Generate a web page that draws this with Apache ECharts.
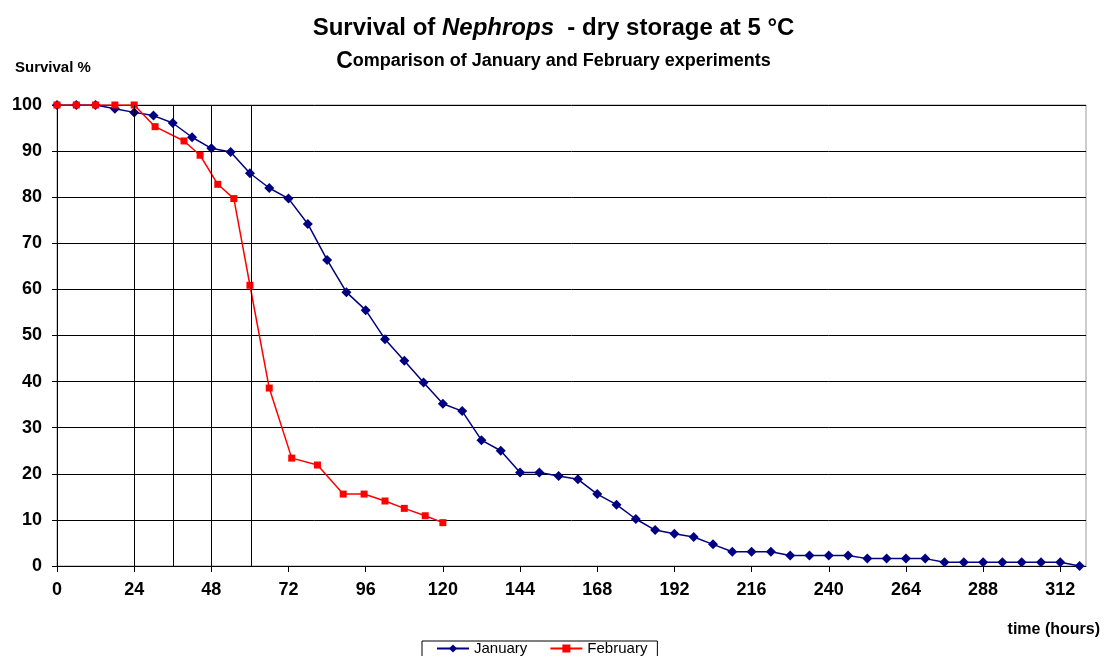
<!DOCTYPE html>
<html>
<head>
<meta charset="utf-8">
<title>Survival of Nephrops - dry storage at 5 °C</title>
<script src="https://cdn.jsdelivr.net/npm/echarts@6/dist/echarts.min.js"></script>
<style>
  html, body { margin: 0; padding: 0; background: #fff; }
  #chart { width: 1107px; height: 656px; }
</style>
</head>
<body>
<div id="chart"></div>
<script>
// hours since start of storage
const janHours = [0, 6, 12, 18, 24, 30, 36, 42, 48, 54, 60, 66, 72, 78, 84, 90, 96, 102, 108, 114,
  120, 126, 132, 138, 144, 150, 156, 162, 168, 174, 180, 186, 192, 198, 204, 210, 216, 222, 228, 234,
  240, 246, 252, 258, 264, 270, 276, 282, 288, 294, 300, 306, 312, 318];
const janSurvival = [100, 100, 100, 99.2, 98.4, 97.7, 96.1, 93.0, 90.6, 89.8, 85.2, 82.0, 79.7, 74.2, 66.4, 59.4, 55.5, 49.2, 44.5, 39.8,
  35.2, 33.6, 27.3, 25.0, 20.3, 20.3, 19.5, 18.8, 15.6, 13.3, 10.2, 7.8, 7.0, 6.3, 4.7, 3.1, 3.1, 3.1, 2.3, 2.3,
  2.3, 2.3, 1.6, 1.6, 1.6, 1.6, 0.8, 0.8, 0.8, 0.8, 0.8, 0.8, 0.8, 0];

const febHours = [0, 6, 12, 18, 24, 30.5, 39.5, 44.5, 50, 55, 60, 66, 73, 81, 89, 95.5, 102, 108, 114.5, 120];
const febSurvival = [100, 100, 100, 100, 100, 95.3, 92.2, 89.1, 82.8, 79.7, 60.9, 38.6, 23.4, 21.9, 15.6, 15.6, 14.1, 12.5, 10.9, 9.4];

// vertical reference lines
const refLines = [24, 36, 48, 60.5];

const xTicks = { min: 0, max: 320, step: 24 };
const yTicks = { min: 0, max: 100, step: 10 };

const FONT = '"Liberation Sans", Arial, sans-serif';

function pairs(xs, ys) {
  return xs.map((x, i) => [x, ys[i]]);
}

const chart = echarts.init(document.getElementById('chart'), null, { renderer: 'canvas' });

chart.setOption({
  backgroundColor: '#fff',
  animation: false,
  title: [
    {
      text: '{a|Survival of }{i|Nephrops}{a|  - dry storage at 5 °C}',
      left: 'center',
      top: 11,
      textStyle: {
        rich: {
          a: { fontFamily: FONT, fontSize: 24, fontWeight: 'bold', color: '#000' },
          i: { fontFamily: FONT, fontSize: 24, fontWeight: 'bold', fontStyle: 'italic', color: '#000' }
        }
      }
    },
    {
      text: '{c|C}{a|omparison of January and February experiments}',
      left: 'center',
      top: 45,
      textStyle: {
        rich: {
          c: { fontFamily: FONT, fontSize: 23, fontWeight: 'bold', color: '#000' },
          a: { fontFamily: FONT, fontSize: 18, fontWeight: 'bold', color: '#000' }
        }
      }
    },
    {
      text: 'Survival %',
      left: 10,
      top: 55,
      textStyle: { fontFamily: FONT, fontSize: 15, fontWeight: 'bold', color: '#000' }
    },
    {
      text: 'time (hours)',
      right: 2,
      top: 617,
      textStyle: { fontFamily: FONT, fontSize: 16, fontWeight: 'bold', color: '#000' }
    }
  ],
  legend: {
    left: 422,
    top: 641,
    itemGap: 22,
    itemWidth: 32,
    itemHeight: 10,
    padding: [0, 10, 10, 14],
    borderColor: '#000',
    borderWidth: 1,
    borderRadius: 0,
    backgroundColor: '#fff',
    textStyle: { fontFamily: FONT, fontSize: 15, color: '#000' },
    data: ['January', 'February']
  },
  grid: {
    left: 57,
    right: 21,
    top: 105,
    bottom: 90,
    show: true,
    borderColor: '#999',
    borderWidth: 1,
    backgroundColor: '#fff'
  },
  xAxis: {
    type: 'value',
    min: xTicks.min,
    max: xTicks.max,
    interval: xTicks.step,
    axisLine: { show: true, onZero: false, lineStyle: { color: '#000', width: 1 } },
    axisTick: { show: true, length: 6, lineStyle: { color: '#000' } },
    axisLabel: {
      showMaxLabel: false,
      margin: 15,
      fontFamily: FONT,
      fontSize: 18,
      fontWeight: 'bold',
      color: '#000'
    },
    splitLine: { show: false }
  },
  yAxis: {
    type: 'value',
    min: yTicks.min,
    max: yTicks.max,
    interval: yTicks.step,
    axisLine: { show: true, lineStyle: { color: '#000', width: 1 } },
    axisTick: { show: true, length: 5, lineStyle: { color: '#000' } },
    axisLabel: {
      margin: 15,
      fontFamily: FONT,
      fontSize: 18,
      fontWeight: 'bold',
      color: '#000'
    },
    splitLine: { show: true, lineStyle: { color: '#000', width: 1 } }
  },
  series: [
    {
      name: 'January',
      type: 'line',
      data: pairs(janHours, janSurvival),
      symbol: 'diamond',
      symbolSize: 10,
      showAllSymbol: true,
      z: 3,
      lineStyle: { color: '#000080', width: 1.5 },
      itemStyle: { color: '#000080' },
      markLine: {
        silent: true,
        symbol: 'none',
        label: { show: false },
        lineStyle: { color: '#000', width: 1, type: 'solid' },
        data: refLines.map(h => ({ xAxis: h }))
      }
    },
    {
      name: 'February',
      type: 'line',
      data: pairs(febHours, febSurvival),
      symbol: 'rect',
      symbolSize: 7,
      showAllSymbol: true,
      z: 4,
      lineStyle: { color: '#ff0000', width: 1.5 },
      itemStyle: { color: '#ff0000' }
    }
  ]
});
</script>
</body>
</html>
